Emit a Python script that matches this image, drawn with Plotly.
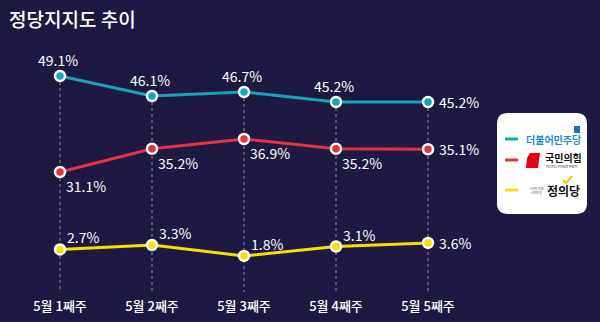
import plotly.graph_objects as go

# ---- data ----
weeks = ["5월 1째주", "5월 2째주", "5월 3째주", "5월 4째주", "5월 5째주"]
minju = [49.1, 46.1, 46.7, 45.2, 45.2]     # 더불어민주당
ppp = [31.1, 35.2, 36.9, 35.2, 35.1]       # 국민의힘
justice = [2.7, 3.3, 1.8, 3.1, 3.6]        # 정의당

party_names = ["더불어민주당", "국민의힘", "정의당"]
colors = ["#17a3b8", "#e3323b", "#f4e100"]

W, H = 600, 322
BG = "#1d1943"
FONT = "Noto Sans CJK KR"


def px_y(p):
    return 1 - p / H


def px_x(p):
    return p / W


# each party gets its own overlaid y axis (broken-scale layout)
ranges = {
    "y": [16.7, 51.5],
    "y2": [10.0, 50.8],
    "y3": [-3.2, 28.95],
}

fig = go.Figure()

series = [(minju, "y"), (ppp, "y2"), (justice, "y3")]
for (vals, ax), name, col in zip(series, party_names, colors):
    fig.add_trace(go.Scatter(
        x=weeks, y=vals, yaxis=ax, name=name, mode="lines+markers",
        line=dict(color=col, width=3),
        marker=dict(size=10, color=col, line=dict(color="white", width=2.5)),
        showlegend=False, hoverinfo="skip",
    ))

# dashed guide lines from the top series down to the axis floor
for wk, v in zip(weeks, minju):
    fig.add_shape(type="line", xref="x", yref="y", x0=wk, x1=wk,
                  y0=v, y1=ranges["y"][0], layer="below",
                  line=dict(color="rgba(220,220,235,0.6)", width=1, dash="3px,3px"))

# value labels
lab_font = dict(family=FONT, size=14, color="white")
n = len(weeks)
for i, (wk, v) in enumerate(zip(weeks, minju)):
    last = i == n - 1
    fig.add_annotation(x=wk, y=v, yref="y", text=f"{v}%", showarrow=False, font=lab_font,
                       xanchor="left" if last else "center", yanchor="middle" if last else "bottom",
                       xshift=9 if last else -2, yshift=0 if last else 4)
for i, (wk, v) in enumerate(zip(weeks, ppp)):
    last = i == n - 1
    fig.add_annotation(x=wk, y=v, yref="y2", text=f"{v}%", showarrow=False, font=lab_font,
                       xanchor="left", yanchor="middle" if last else "top",
                       xshift=9 if last else 4, yshift=0 if last else -2)
for i, (wk, v) in enumerate(zip(weeks, justice)):
    last = i == n - 1
    fig.add_annotation(x=wk, y=v, yref="y3", text=f"{v}%", showarrow=False, font=lab_font,
                       xanchor="left", yanchor="middle" if last else "bottom",
                       xshift=9 if last else 5, yshift=0 if last else 0)

# title
fig.add_annotation(xref="paper", yref="paper", x=px_x(7), y=px_y(18), text="정당지지도 추이",
                   showarrow=False, xanchor="left", yanchor="middle",
                   font=dict(family=FONT, size=19, color="white", weight=500))

# ---- legend card ----
x0, x1, y0, y1 = px_x(497), px_x(587), px_y(214), px_y(113)
rx, ry = 11 / W, 11 / H
card = (f"M{x0+rx},{y0} L{x1-rx},{y0} Q{x1},{y0} {x1},{y0+ry} "
        f"L{x1},{y1-ry} Q{x1},{y1} {x1-rx},{y1} L{x0+rx},{y1} "
        f"Q{x0},{y1} {x0},{y1-ry} L{x0},{y0+ry} Q{x0},{y0} {x0+rx},{y0} Z")
fig.add_shape(type="path", xref="paper", yref="paper", path=card,
              fillcolor="white", line=dict(width=0), layer="above")

legend_rows = [139, 160, 190]
for col, py in zip(colors, legend_rows):
    fig.add_shape(type="line", xref="paper", yref="paper",
                  x0=px_x(505), x1=px_x(518), y0=px_y(py), y1=px_y(py),
                  line=dict(color=col, width=3), layer="above")

# 더불어민주당 wordmark
fig.add_annotation(xref="paper", yref="paper", x=px_x(524), y=px_y(140), text="<b>더불어민주당</b>",
                   showarrow=False, xanchor="left", yanchor="middle",
                   font=dict(family=FONT, size=10, color="#1a8fcf"))
fig.add_shape(type="rect", xref="paper", yref="paper", x0=px_x(574), x1=px_x(580),
              y0=px_y(133), y1=px_y(126), fillcolor="#1c6fc0", line=dict(width=0), layer="above")

# 국민의힘 wordmark
blob = (f"M{px_x(530)},{px_y(153)} L{px_x(540)},{px_y(153)} L{px_x(538)},{px_y(168)} "
        f"L{px_x(526)},{px_y(168)} L{px_x(527)},{px_y(158)} Z")
fig.add_shape(type="path", xref="paper", yref="paper", path=blob,
              fillcolor="#e60012", line=dict(width=0), layer="above")
fig.add_annotation(xref="paper", yref="paper", x=px_x(543), y=px_y(158), text="<b>국민의힘</b>",
                   showarrow=False, xanchor="left", yanchor="middle",
                   font=dict(family=FONT, size=10, color="#111111"))
fig.add_annotation(xref="paper", yref="paper", x=px_x(544), y=px_y(167), text="PEOPLE POWER PARTY",
                   showarrow=False, xanchor="left", yanchor="middle",
                   font=dict(family=FONT, size=3, color="#333333"))

# 정의당 wordmark
fig.add_annotation(xref="paper", yref="paper", x=px_x(527), y=px_y(190),
                   text="나라의 미래<br>시민의 힘", showarrow=False, xanchor="left", yanchor="middle",
                   font=dict(family=FONT, size=3, color="#555555"))
fig.add_annotation(xref="paper", yref="paper", x=px_x(545), y=px_y(191), text="<b>정의당</b>",
                   showarrow=False, xanchor="left", yanchor="middle",
                   font=dict(family=FONT, size=12, color="#111111"))
fig.add_shape(type="path", xref="paper", yref="paper",
              path=f"M{px_x(563)},{px_y(180)} L{px_x(566)},{px_y(183)} L{px_x(572)},{px_y(176)}",
              line=dict(color="#f2c500", width=2), layer="above")

# ---- axes ----
ydom = [px_y(292), px_y(60)]
hidden_y = dict(domain=ydom, showgrid=False, zeroline=False, showticklabels=False,
                fixedrange=True)
fig.update_layout(
    width=W, height=H,
    margin=dict(l=0, r=0, t=0, b=0),
    paper_bgcolor=BG, plot_bgcolor="rgba(0,0,0,0)",
    xaxis=dict(domain=[px_x(14), px_x(474)], range=[-0.5, 4.5], showgrid=False,
               zeroline=False, showline=False, ticks="", ticklabelstandoff=5,
               tickfont=dict(family=FONT, size=13, color="white", weight=500)),
    yaxis=dict(range=ranges["y"], **hidden_y),
    yaxis2=dict(range=ranges["y2"], overlaying="y", **hidden_y),
    yaxis3=dict(range=ranges["y3"], overlaying="y", **hidden_y),
)

fig.write_html("out.html")
